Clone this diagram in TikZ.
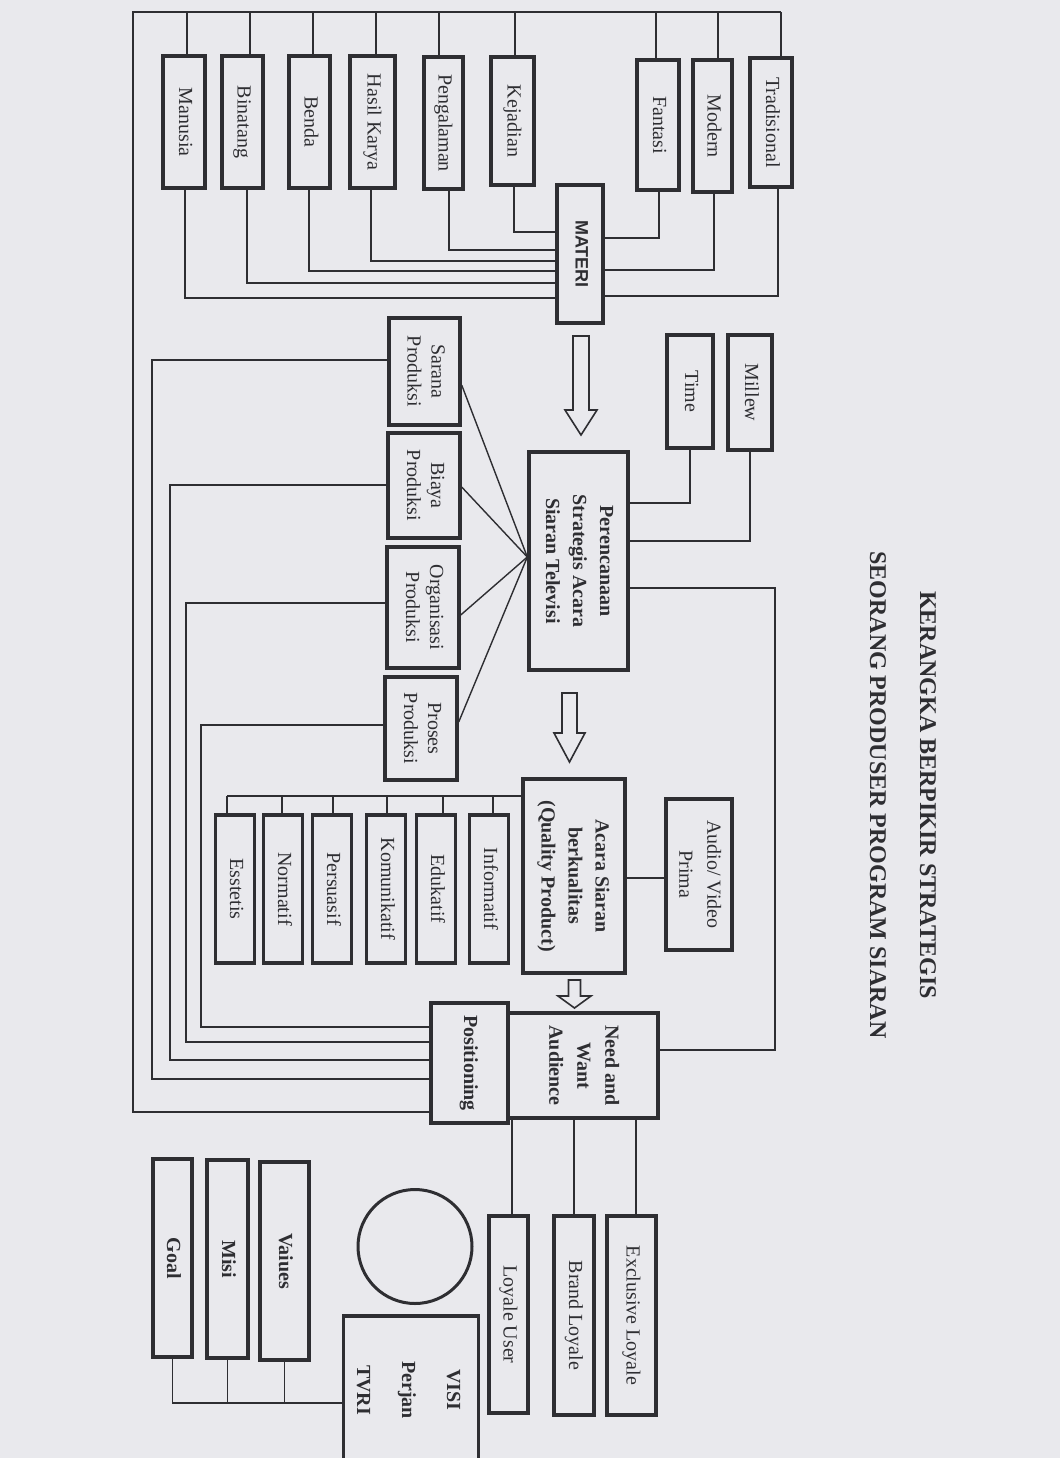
\documentclass[tikz,border=0pt]{standalone}
\usepackage{fontspec}
\setmainfont{Liberation Serif}
\newfontfamily\arialfont{Liberation Sans}
\usepackage{graphicx}
\usetikzlibrary{calc}

\definecolor{pagebg}{RGB}{233,233,237}
\definecolor{ink}{RGB}{46,46,50}

\newcommand{\vtext}[1]{\rotatebox{-90}{\begin{tabular}{@{}c@{}}#1\end{tabular}}}
\newcommand{\blockarrow}[6]{%
  \draw[hollow] ({#1-#3},#2) -- ({#1+#3},#2) -- ({#1+#3},{#2+#5}) -- ({#1+#4},{#2+#5})
    -- (#1,{#2+#6}) -- ({#1-#4},{#2+#5}) -- ({#1-#3},{#2+#5}) -- cycle;}

\tikzset{
  box/.style={draw=ink, line width=1.7pt, fill=pagebg, inner sep=0pt, text=ink,
    font=\fontsize{10}{12}\selectfont},
  boldbox/.style={box, font=\fontsize{10}{13.5}\selectfont\bfseries},
  link/.style={draw=ink, line width=0.7pt},
  hollow/.style={draw=ink, line width=0.8pt, fill=pagebg, line join=miter},
}

\begin{document}
\begin{tikzpicture}[x=0.5pt,y=-0.5pt]
  \useasboundingbox (0,0) rectangle (1060,1458);
  \fill[pagebg] (0,0) rectangle (1060,1458);

  % title
  \node[text=ink, font=\fontsize{12}{14}\selectfont\bfseries] (title1) at (928,795) {\rotatebox{-90}{KERANGKA BERPIKIR STRATEGIS}};
  \node[text=ink, font=\fontsize{12}{14}\selectfont\bfseries] (title2) at (878,795) {\rotatebox{-90}{SEORANG PRODUSER PROGRAM SIARAN}};

  % materi
  \node[box, minimum width=21pt, minimum height=66pt] (manusia) at (184,122) {\vtext{Manusia}};
  \node[box, minimum width=20.5pt, minimum height=66pt] (binatang) at (242.5,122) {\vtext{Binatang}};
  \node[box, minimum width=20.5pt, minimum height=66pt] (benda) at (309.5,122) {\vtext{Benda}};
  \node[box, minimum width=22.5pt, minimum height=66pt] (hasil) at (372.5,122) {\vtext{Hasil Karya}};
  \node[box, minimum width=19.5pt, minimum height=66pt] (pengalaman) at (443.5,123) {\vtext{Pengalaman}};
  \node[box, minimum width=21.5pt, minimum height=64pt] (kejadian) at (512.5,121) {\vtext{Kejadian}};
  \node[box, minimum width=21pt, minimum height=65pt] (fantasi) at (658,125) {\vtext{Fantasi}};
  \node[box, minimum width=19.5pt, minimum height=66pt] (modern) at (712.5,126) {\vtext{Modern}};
  \node[box, minimum width=21pt, minimum height=64.5pt] (tradisional) at (771,122.5) {\vtext{Tradisional}};
  \node[box, font=\arialfont\bfseries\fontsize{9}{11}\selectfont, minimum width=23pt, minimum height=69pt] (materi) at (580,254) {\vtext{MATERI}};

  \foreach \n/\xt/\xb/\yb in {manusia/187/185/298, binatang/250/247/283, benda/313/309/271,
      hasil/376/371/261, pengalaman/439/449/250, kejadian/515/514/232} {
    \draw[link] (\xt,12) -- (\n.north -| \xt,0);
    \draw[link] (\n.south -| \xb,0) |- (materi.west |- 0,\yb);
  }
  \foreach \n/\xt/\xb/\yb in {fantasi/656/659/238, modern/718/714/270, tradisional/781/778/296} {
    \draw[link] (\xt,12) -- (\n.north -| \xt,0);
    \draw[link] (\n.south -| \xb,0) |- (materi.east |- 0,\yb);
  }

  % perencanaan
  \node[box, minimum width=23pt, minimum height=56.5pt] (time) at (690,391.5) {\vtext{Time}};
  \node[box, minimum width=22pt, minimum height=57.5pt] (millew) at (750,392.5) {\vtext{Millew}};
  \node[boldbox, minimum width=49.5pt, minimum height=109pt] (plan) at (578.5,561) {\vtext{Perencanaan\\Strategis Acara\\Siaran Televisi}};
  \node[box, minimum width=35.5pt, minimum height=53.5pt] (sarana) at (424.5,371.5) {\vtext{Sarana\\Produksi}};
  \node[box, minimum width=36pt, minimum height=52.5pt] (biaya) at (424,485.5) {\vtext{Biaya\\Produksi}};
  \node[box, minimum width=36pt, minimum height=60.5pt] (organisasi) at (423,607.5) {\vtext{Organisasi\\Produksi}};
  \node[box, minimum width=36pt, minimum height=51.5pt] (proses) at (421,728.5) {\vtext{Proses\\Produksi}};
  \coordinate (apex) at (plan.west |- 0,557);

  \draw[link] (time.south) |- (plan.east |- 0,503);
  \draw[link] (millew.south) |- (plan.east |- 0,541);
  \foreach \n/\y in {sarana/385, biaya/487, organisasi/615, proses/722}
    \draw[link] (apex) -- (\n.east |- 0,\y);

  % acara siaran
  \node[boldbox, minimum width=51pt, minimum height=97pt] (acara) at (574,876) {\vtext{Acara Siaran\\berkualitas\\(Quality Product)}};
  \node[box, font=\fontsize{10}{14}\selectfont, minimum width=33pt, minimum height=75.5pt] (audio) at (699,874.5) {\vtext{Audio/ Video\\Prima}};
  \foreach \n/\lbl/\x in {esstetis/Esstetis/235, normatif/Normatif/283, persuasif/Persuasif/332,
      komunikatif/Komunikatif/386, edukatif/Edukatif/436, informatif/Informatif/489}
    \node[box, minimum width=19.5pt, minimum height=74pt] (\n) at (\x,889) {\vtext{\lbl}};

  \draw[link] (acara.east |- 0,878) -- (audio.west |- 0,878);
  \draw[link] (acara.west |- 0,796) -- (227,796);
  \foreach \n/\x in {esstetis/227, normatif/282, persuasif/333, komunikatif/387, edukatif/443, informatif/493}
    \draw[link] (\x,796) -- (\n.north -| \x,0);

  % audience
  \node[boldbox, minimum width=38.5pt, minimum height=60pt] (positioning) at (469.5,1063) {\vtext{Positioning}};
  \node[boldbox, font=\fontsize{10}{14}\selectfont\bfseries, minimum width=75pt, minimum height=52.5pt] (need) at (583,1065.5) {\vtext{Need and\\Want\\Audience}};
  \node[box, minimum width=19.5pt, minimum height=98.5pt] (loyaleuser) at (508.5,1314.5) {\vtext{Loyale User}};
  \node[box, minimum width=20pt, minimum height=99.5pt] (brand) at (574,1315.5) {\vtext{Brand Loyale}};
  \node[box, minimum width=24.5pt, minimum height=99.5pt] (exclusive) at (631.5,1315.5) {\vtext{Exclusive Loyale}};

  \draw[link] (need.south -| 512,0) -- (loyaleuser.north -| 512,0);
  \draw[link] (need.south -| brand.north) -- (brand.north);
  \draw[link] (need.south -| 636,0) -- (exclusive.north -| 636,0);
  \draw[link] (plan.east |- 0,588) -| (775,1050) -- (need.east |- 0,1050);

  \draw[link] (781,12) -- (133,12) -- (133,1112) -- (positioning.west |- 0,1112);
  \foreach \n/\y/\x/\yy in {sarana/360/152/1079, biaya/485/170/1060, organisasi/603/186/1042, proses/725/201/1027}
    \draw[link] (\n.west |- 0,\y) -| (\x,\yy) -- (positioning.west |- 0,\yy);

  % visi
  \node[draw=ink, line width=1.5pt, circle, minimum size=57pt, inner sep=0pt] (circ) at (415,1246.5) {};
  \node[boldbox, font=\fontsize{10}{22.5}\selectfont\bfseries, minimum width=66pt, minimum height=74pt] (visi) at (411,1390) {\vtext{VISI\\Perjan\\TVRI}};
  \node[boldbox, minimum width=19.5pt, minimum height=99pt] (goal) at (172.5,1258) {\vtext{Goal}};
  \node[boldbox, minimum width=20.5pt, minimum height=99pt] (misi) at (227.5,1259) {\vtext{Misi}};
  \node[boldbox, minimum width=24.5pt, minimum height=99pt] (vaiues) at (284.5,1261) {\vtext{Vaiues}};

  \draw[link] (goal.south) |- (visi.west |- 0,1403);
  \foreach \n in {misi, vaiues}
    \draw[link] (\n.south) -- (\n.south |- 0,1403);

  % arrows
  \blockarrow{581}{336}{8}{16}{74}{99}
  \blockarrow{569.5}{693}{7.5}{15.5}{40}{69}
  \blockarrow{574.5}{980}{6}{16.5}{16}{28}
\end{tikzpicture}
\end{document}
